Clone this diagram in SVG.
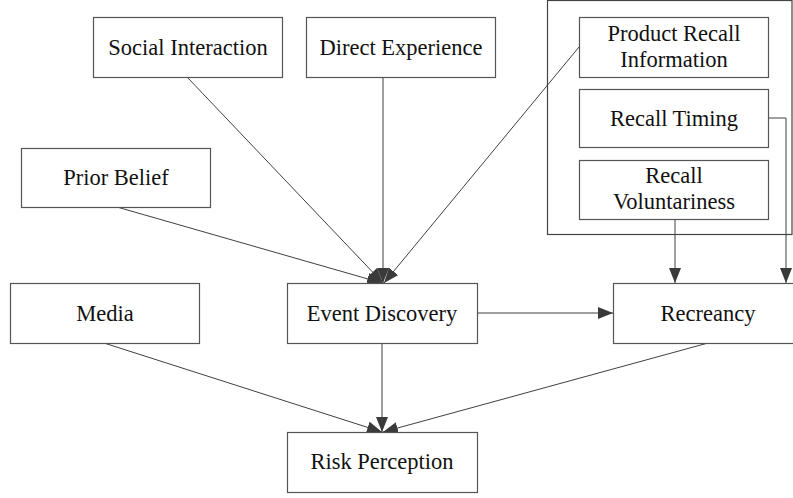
<svg xmlns="http://www.w3.org/2000/svg" width="793" height="498" viewBox="0 0 793 498">
<style>
.box{fill:#fff;stroke:#555;stroke-width:1.2}
.lbl{font-family:"Liberation Serif","Times New Roman",serif;font-size:22.5px;fill:#111;text-anchor:middle}
.con{fill:none;stroke:#404040;stroke-width:1}
</style>
<defs>
<marker id="ah" markerUnits="userSpaceOnUse" markerWidth="16" markerHeight="14" refX="15" refY="6" orient="auto">
<path d="M0,0 L15,6 L0,12 Z" fill="#3a3a3a"/>
</marker>
</defs>
<rect x="547.5" y="0.5" width="244.5" height="234" fill="none" stroke="#444" stroke-width="1.2"/>
<g id="connectors">
<line class="con" x1="187" y1="77" x2="383" y2="283" marker-end="url(#ah)"/>
<line class="con" x1="383" y1="77" x2="383" y2="283" marker-end="url(#ah)"/>
<line class="con" x1="579" y1="47" x2="384" y2="283" marker-end="url(#ah)"/>
<line class="con" x1="117" y1="207" x2="382" y2="283" marker-end="url(#ah)"/>
<line class="con" x1="477" y1="313" x2="613" y2="313" marker-end="url(#ah)"/>
<line class="con" x1="675" y1="219" x2="675" y2="283" marker-end="url(#ah)"/>
<polyline class="con" points="768,118 786,118 786,283" marker-end="url(#ah)"/>
<line class="con" x1="104" y1="343" x2="382" y2="432" marker-end="url(#ah)"/>
<line class="con" x1="382" y1="343" x2="382" y2="432" marker-end="url(#ah)"/>
<line class="con" x1="708" y1="343" x2="383" y2="432" marker-end="url(#ah)"/>
</g>
<g id="social-interaction"><rect class="box" x="93.5" y="17.5" width="189" height="60"/><text class="lbl" x="188" y="55">Social Interaction</text></g>
<g id="direct-experience"><rect class="box" x="306.5" y="17.5" width="189" height="60"/><text class="lbl" x="401" y="55">Direct Experience</text></g>
<g id="product-recall-information"><rect class="box" x="579.5" y="17.5" width="189" height="60"/><text class="lbl" x="674" y="41">Product Recall</text><text class="lbl" x="674" y="67">Information</text></g>
<g id="recall-timing"><rect class="box" x="579.5" y="89.5" width="189" height="58"/><text class="lbl" x="674" y="126">Recall Timing</text></g>
<g id="recall-voluntariness"><rect class="box" x="579.5" y="160.5" width="189" height="59"/><text class="lbl" x="674" y="183">Recall</text><text class="lbl" x="674" y="209">Voluntariness</text></g>
<g id="prior-belief"><rect class="box" x="21.5" y="148.5" width="189" height="59"/><text class="lbl" x="116" y="185">Prior Belief</text></g>
<g id="media"><rect class="box" x="10.5" y="283.5" width="189" height="60"/><text class="lbl" x="105" y="321">Media</text></g>
<g id="event-discovery"><rect class="box" x="287.5" y="283.5" width="190" height="60"/><text class="lbl" x="382" y="321">Event Discovery</text></g>
<g id="recreancy"><rect class="box" x="613.5" y="283.5" width="190" height="60"/><text class="lbl" x="708" y="321">Recreancy</text></g>
<g id="risk-perception"><rect class="box" x="287.5" y="432.5" width="190" height="60"/><text class="lbl" x="382" y="469">Risk Perception</text></g>
</svg>
